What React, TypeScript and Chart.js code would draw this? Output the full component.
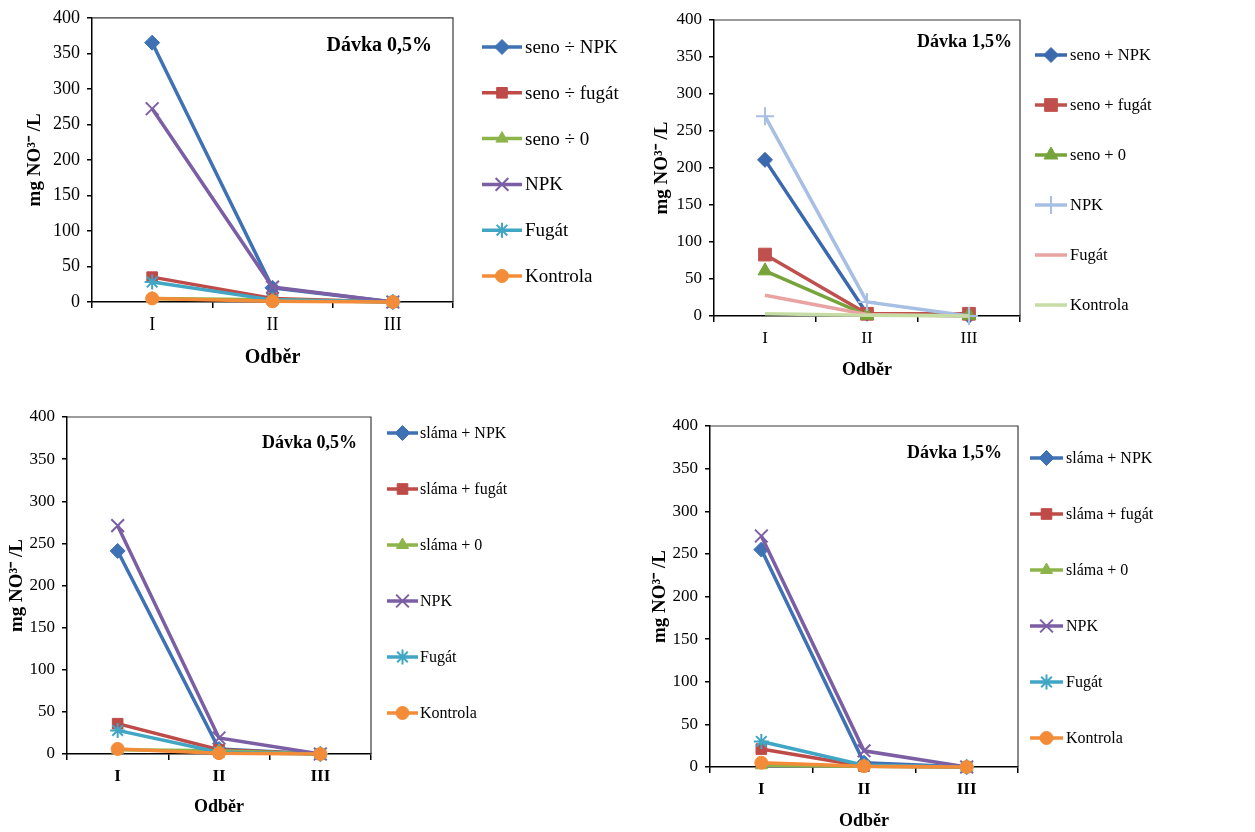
import React, { useEffect, useRef } from 'react';
import { Chart, registerables } from 'chart.js';
import { drawPoint } from 'chart.js/helpers';

Chart.register(...registerables);

// ---------- DATA ----------
const categories = ['I', 'II', 'III'];
const yTickValues = [0, 50, 100, 150, 200, 250, 300, 350, 400];
const yAxisTitle = 'mg NO³⁻ /L';
const xAxisTitle = 'Odběr';

// Panel 1 – seno, dávka 0,5 %
const p1Title = 'Dávka 0,5%';
const p1Labels = ['seno ÷ NPK', 'seno ÷ fugát', 'seno ÷ 0', 'NPK', 'Fugát', 'Kontrola'];
const p1SenoNPK = [365, 20, 0];
const p1SenoFugat = [35, 5, 0];
const p1Seno0 = [5, 3, 0];
const p1NPK = [272, 21, 0];
const p1Fugat = [28, 3, 0];
const p1Kontrola = [5, 1, 0];

// Panel 2 – seno, dávka 1,5 %
const p2Title = 'Dávka 1,5%';
const p2Labels = ['seno + NPK', 'seno + fugát', 'seno + 0', 'NPK', 'Fugát', 'Kontrola'];
const p2SenoNPK = [211, 3, 0];
const p2SenoFugat = [83, 3, 3];
const p2Seno0 = [61, 1, 1];
const p2NPK = [270, 19, 0];
const p2Fugat = [28, 2, 0];
const p2Kontrola = [3, 1, 0];

// Panel 3 – sláma, dávka 0,5 %
const p3Title = 'Dávka 0,5%';
const p3Labels = ['sláma + NPK', 'sláma + fugát', 'sláma + 0', 'NPK', 'Fugát', 'Kontrola'];
const p3SlamaNPK = [241, 6, 0];
const p3SlamaFugat = [36, 5, 0];
const p3Slama0 = [5, 4, 0];
const p3NPK = [271, 19, 0];
const p3Fugat = [28, 2, 0];
const p3Kontrola = [6, 1, 0];

// Panel 4 – sláma, dávka 1,5 %
const p4Title = 'Dávka 1,5%';
const p4Labels = ['sláma + NPK', 'sláma + fugát', 'sláma + 0', 'NPK', 'Fugát', 'Kontrola'];
const p4SlamaNPK = [255, 5, 0];
const p4SlamaFugat = [21, 1, 0];
const p4Slama0 = [2, 1, 0];
const p4NPK = [271, 19, 0];
const p4Fugat = [30, 2, 0];
const p4Kontrola = [5, 1, 0];

// ---------- STYLES ----------
const FONT = '"Liberation Serif", "Times New Roman", serif';
const colorsA = ['#3F72B5', '#BE4B48', '#8DB44A', '#7B5EA3', '#41A5C4', '#F28C38'];
const colorsB = ['#3C69AE', '#C0504D', '#76A33A', '#A7BFE3', '#E8A3A2', '#C6DCA5'];
const stylesA: any[] = ['rectRot', 'rect', 'triangle', 'crossRot', 'star', 'circle'];
const stylesB: any[] = ['rectRot', 'rect', 'triangle', 'cross', false, false];
const radiiA = [7.5, 7.5, 7, 9, 7.5, 6.5];
const radiiB = [7.5, 9, 8, 9, 0, 0];

type PanelCfg = {
  box: { x: number; y: number; w: number; h: number };
  area: { l: number; t: number; r: number; b: number };
  title: string;
  titleRight: number;
  titleY: number;
  titleSize: number;
  labels: string[];
  values: number[][];
  colors: string[];
  styles: any[];
  radii: number[];
  legend: { x1: number; x2: number; tx: number; y0: number; dy: number; size: number };
  tickSize: number;
  xTickBold: boolean;
  yTitleX: number;
  yTitleSize: number;
  xTitleY: number;
  xTitleSize: number;
};

const panels: PanelCfg[] = [
  {
    box: { x: 0, y: 0, w: 640, h: 392 },
    area: { l: 92, t: 17, r: 453, b: 302 },
    title: p1Title, titleRight: 432, titleY: 46, titleSize: 20,
    labels: p1Labels,
    values: [p1SenoNPK, p1SenoFugat, p1Seno0, p1NPK, p1Fugat, p1Kontrola],
    colors: colorsA, styles: stylesA, radii: radiiA,
    legend: { x1: 482, x2: 522, tx: 525, y0: 47, dy: 45.8, size: 19 },
    tickSize: 18, xTickBold: false,
    yTitleX: 35, yTitleSize: 19, xTitleY: 358, xTitleSize: 20,
  },
  {
    box: { x: 640, y: 0, w: 615, h: 395 },
    area: { l: 714, t: 20, r: 1020, b: 316 },
    title: p2Title, titleRight: 1012, titleY: 42, titleSize: 18,
    labels: p2Labels,
    values: [p2SenoNPK, p2SenoFugat, p2Seno0, p2NPK, p2Fugat, p2Kontrola],
    colors: colorsB, styles: stylesB, radii: radiiB,
    legend: { x1: 1035, x2: 1067, tx: 1070, y0: 55, dy: 50, size: 16.5 },
    tickSize: 17, xTickBold: false,
    yTitleX: 662, yTitleSize: 19, xTitleY: 370, xTitleSize: 18,
  },
  {
    box: { x: 0, y: 395, w: 640, h: 437 },
    area: { l: 67, t: 417, r: 371, b: 754 },
    title: p3Title, titleRight: 357, titleY: 443, titleSize: 18,
    labels: p3Labels,
    values: [p3SlamaNPK, p3SlamaFugat, p3Slama0, p3NPK, p3Fugat, p3Kontrola],
    colors: colorsA, styles: stylesA, radii: radiiA,
    legend: { x1: 387, x2: 418, tx: 420, y0: 433, dy: 56, size: 16 },
    tickSize: 17, xTickBold: true,
    yTitleX: 17, yTitleSize: 19, xTitleY: 807, xTitleSize: 18,
  },
  {
    box: { x: 640, y: 395, w: 615, h: 437 },
    area: { l: 710, t: 426, r: 1018, b: 767 },
    title: p4Title, titleRight: 1002, titleY: 453, titleSize: 18,
    labels: p4Labels,
    values: [p4SlamaNPK, p4SlamaFugat, p4Slama0, p4NPK, p4Fugat, p4Kontrola],
    colors: colorsA, styles: stylesA, radii: radiiA,
    legend: { x1: 1030, x2: 1063, tx: 1066, y0: 458, dy: 56, size: 16 },
    tickSize: 17, xTickBold: true,
    yTitleX: 660, yTitleSize: 19, xTitleY: 821, xTitleSize: 18,
  },
];

const decoPlugin = {
  id: 'panelDeco',
  afterDraw(chart: any, _args: any, opts: any) {
    const ctx = chart.ctx as CanvasRenderingContext2D;
    const { left, top, right, bottom } = chart.chartArea;
    ctx.save();
    // plot box (top and right edges)
    ctx.strokeStyle = '#3a3a3a';
    ctx.lineWidth = 1.2;
    ctx.beginPath();
    ctx.moveTo(left, top);
    ctx.lineTo(right, top);
    ctx.lineTo(right, bottom);
    ctx.stroke();
    // title inside plot
    ctx.fillStyle = '#000';
    ctx.font = `bold ${opts.titleSize}px ${FONT}`;
    ctx.textAlign = 'right';
    ctx.textBaseline = 'middle';
    ctx.fillText(opts.title, opts.titleRight, opts.titleY);
    // legend
    const lg = opts.legend;
    chart.data.datasets.forEach((ds: any, i: number) => {
      const y = lg.y0 + i * lg.dy;
      ctx.strokeStyle = ds.borderColor;
      ctx.lineWidth = ds.borderWidth;
      ctx.beginPath();
      ctx.moveTo(lg.x1, y);
      ctx.lineTo(lg.x2, y);
      ctx.stroke();
      if (ds.pointStyle && ds.pointRadius > 0) {
        ctx.fillStyle = ds.pointBackgroundColor;
        ctx.strokeStyle = ds.pointBorderColor;
        ctx.lineWidth = ds.pointBorderWidth;
        drawPoint(ctx, { pointStyle: ds.pointStyle, radius: ds.pointRadius, borderWidth: ds.pointBorderWidth, rotation: 0 } as any, (lg.x1 + lg.x2) / 2, y);
      }
      ctx.fillStyle = '#000';
      ctx.font = `${lg.size}px ${FONT}`;
      ctx.textAlign = 'left';
      ctx.textBaseline = 'middle';
      ctx.fillText(ds.label, lg.tx, y + 1);
    });
    ctx.restore();
  },
};

function Panel({ cfg }: { cfg: PanelCfg }) {
  const ref = useRef<HTMLCanvasElement | null>(null);
  useEffect(() => {
    if (!ref.current) return;
    const { box, area } = cfg;
    const n = cfg.values.length;
    const yTitleLH = cfg.yTitleSize * 1.2;
    const xTitleLH = cfg.xTitleSize * 1.2;
    const datasets = cfg.values.map((vals, i) => {
      const style = cfg.styles[i];
      const isLineMarker = style === 'crossRot' || style === 'cross' || style === 'star';
      return {
        label: cfg.labels[i],
        data: vals,
        borderColor: cfg.colors[i],
        backgroundColor: cfg.colors[i],
        borderWidth: 3.5,
        pointStyle: style || 'circle',
        pointRadius: style ? cfg.radii[i] : 0,
        pointBackgroundColor: cfg.colors[i],
        pointBorderColor: cfg.colors[i],
        pointBorderWidth: isLineMarker ? 2 : 1,
        tension: 0,
        clip: false as any,
        order: n - i,
      };
    });
    const chart = new Chart(ref.current, {
      type: 'line',
      data: { labels: categories, datasets },
      plugins: [decoPlugin as any],
      options: {
        animation: false,
        responsive: false,
        maintainAspectRatio: false,
        events: [],
        layout: {
          padding: {
            left: 0,
            top: area.t - box.y,
            right: box.x + box.w - area.r,
            bottom: 0,
          },
        },
        plugins: {
          legend: { display: false },
          tooltip: { enabled: false },
          panelDeco: {
            title: cfg.title,
            titleRight: cfg.titleRight - box.x,
            titleY: cfg.titleY - box.y,
            titleSize: cfg.titleSize,
            legend: {
              x1: cfg.legend.x1 - box.x,
              x2: cfg.legend.x2 - box.x,
              tx: cfg.legend.tx - box.x,
              y0: cfg.legend.y0 - box.y,
              dy: cfg.legend.dy,
              size: cfg.legend.size,
            },
          },
        } as any,
        scales: {
          x: {
            type: 'category',
            offset: true,
            grid: {
              display: true,
              drawOnChartArea: false,
              drawTicks: true,
              tickLength: 6,
              offset: true,
              color: '#000',
              lineWidth: 1.5,
            },
            border: { display: true, color: '#000', width: 1.5 },
            ticks: {
              color: '#000',
              padding: 6,
              font: { family: FONT, size: cfg.tickSize, weight: cfg.xTickBold ? 'bold' : 'normal' },
            },
            title: {
              display: true,
              text: xAxisTitle,
              color: '#000',
              font: { family: FONT, size: cfg.xTitleSize, weight: 'bold' },
              padding: { top: 0, bottom: Math.max(0, box.y + box.h - cfg.xTitleY - xTitleLH / 2) },
            },
            afterFit: (s: any) => {
              s.height = box.y + box.h - area.b;
            },
          },
          y: {
            min: 0,
            max: 400,
            afterBuildTicks: (s: any) => {
              s.ticks = yTickValues.map((v) => ({ value: v }));
            },
            grid: {
              display: true,
              drawOnChartArea: false,
              drawTicks: true,
              tickLength: 5,
              color: '#000',
              lineWidth: 1.5,
            },
            border: { display: true, color: '#000', width: 1.5 },
            ticks: {
              color: '#000',
              padding: 7,
              font: { family: FONT, size: cfg.tickSize },
            },
            title: {
              display: true,
              text: yAxisTitle,
              color: '#000',
              font: { family: FONT, size: cfg.yTitleSize, weight: 'bold' },
              padding: { top: Math.max(0, cfg.yTitleX - box.x - yTitleLH / 2), bottom: 0 },
            },
            afterFit: (s: any) => {
              s.width = area.l - box.x;
            },
          },
        },
      } as any,
    });
    return () => chart.destroy();
  }, [cfg]);
  const { box } = cfg;
  return (
    <canvas
      ref={ref}
      width={box.w}
      height={box.h}
      style={{ position: 'absolute', left: box.x, top: box.y, width: box.w, height: box.h }}
    />
  );
}

export default function App() {
  return (
    <div style={{ position: 'absolute', left: 0, top: 0, width: 1255, height: 832, background: '#fff', overflow: 'hidden' }}>
      {panels.map((p, i) => (
        <Panel key={i} cfg={p} />
      ))}
    </div>
  );
}
